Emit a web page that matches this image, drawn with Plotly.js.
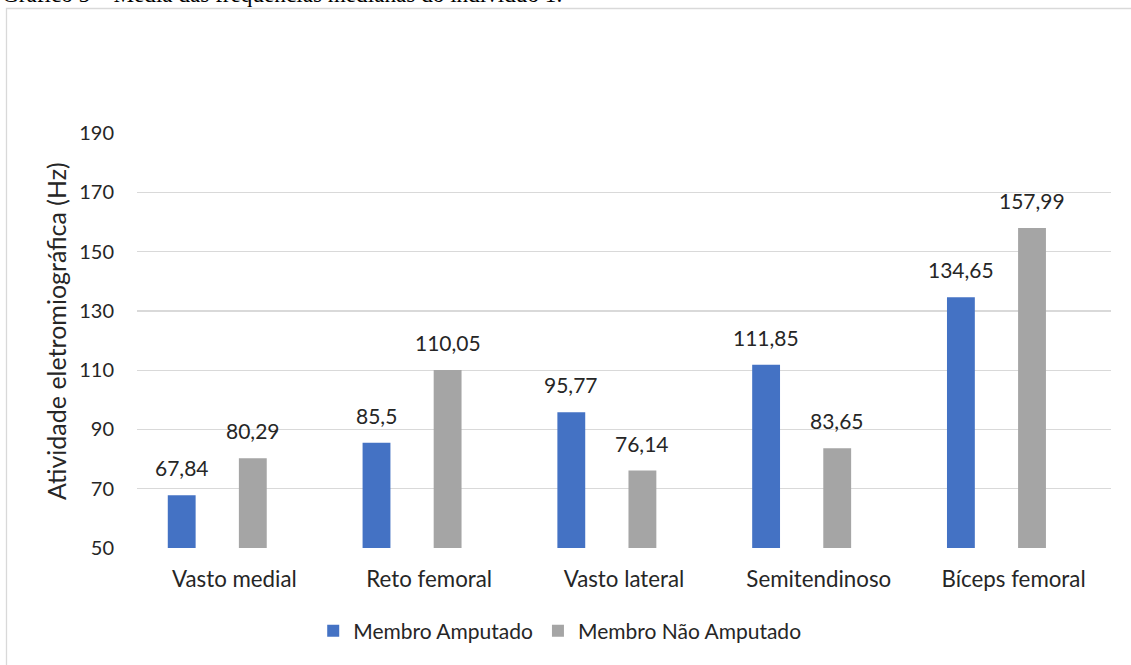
<!DOCTYPE html>
<html>
<head>
<meta charset="utf-8">
<script src="https://cdn.plot.ly/plotly-3.0.1.min.js"></script>
<style>
  html, body { margin: 0; padding: 0; background: #fff; }
  #chart { width: 1131px; height: 665px; }
</style>
</head>
<body>
<div id="chart"></div>
<script>
// Músculos avaliados
const musculos = ['Vasto medial', 'Reto femoral', 'Vasto lateral', 'Semitendinoso', 'Bíceps femoral'];
// Média das frequências medianas (Hz)
const membroAmputado = [67.84, 85.5, 95.77, 111.85, 134.65];
const membroNaoAmputado = [80.29, 110.05, 76.14, 83.65, 157.99];
const yTicks = [50, 70, 90, 110, 130, 150, 170, 190];

const FONT = 'Lato, "Open Sans", sans-serif';
const TXT = '#262626';
const BAR_W = 0.143;
const OFF_A = -0.342;
const OFF_B = 0.023;

const fmt = v => String(v).replace('.', ',');

const traces = [
  {
    type: 'bar', name: 'Membro Amputado', x: musculos, y: membroAmputado,
    marker: { color: '#4472C4' }, width: BAR_W, offset: OFF_A,
    hoverinfo: 'y'
  },
  {
    type: 'bar', name: 'Membro Não Amputado', x: musculos, y: membroNaoAmputado,
    marker: { color: '#A5A5A5' }, width: BAR_W, offset: OFF_B,
    hoverinfo: 'y'
  }
];

// rótulos de dados sobre cada barra
const annotations = [];
[[membroAmputado, OFF_A], [membroNaoAmputado, OFF_B]].forEach(([serie, off]) => {
  serie.forEach((v, i) => {
    annotations.push({
      x: i + off + BAR_W / 2, y: v, xref: 'x', yref: 'y',
      text: fmt(v), showarrow: false, yanchor: 'bottom', yshift: 13,
      font: { family: FONT, size: 21, color: TXT }
    });
  });
});

// título do eixo vertical
annotations.push({
  xref: 'paper', yref: 'paper', x: -0.083, y: 0.523,
  xanchor: 'center', yanchor: 'middle', textangle: -90, showarrow: false,
  text: 'Atividade eletromiográfica (Hz)',
  font: { family: FONT, size: 25, color: TXT }
});

// legenda do gráfico (parcialmente fora da área visível)
annotations.push({
  xref: 'paper', yref: 'paper', x: -0.1407, y: 1.2988,
  xanchor: 'left', yanchor: 'bottom', showarrow: false,
  text: 'Gráfico 5 – Média das frequências medianas do indivíduo 1.',
  font: { family: '"Liberation Serif", "Times New Roman", serif', size: 23.2, color: '#000' }
});

const layout = {
  width: 1131, height: 665,
  margin: { l: 137, r: 20, t: 133, b: 117 },
  paper_bgcolor: '#fff', plot_bgcolor: '#fff',
  barmode: 'overlay',
  showlegend: true,
  legend: {
    orientation: 'h', x: 0.434, xanchor: 'center', y: -0.2, yanchor: 'middle',
    font: { family: FONT, size: 21, color: TXT }, itemwidth: 30, tracegroupgap: 0
  },
  xaxis: {
    type: 'category', range: [-0.5, 4.5], showgrid: false, zeroline: false,
    showline: false, ticks: '', ticklabelstandoff: 16,
    tickfont: { family: FONT, size: 22.3, color: TXT }, fixedrange: true
  },
  yaxis: {
    range: [50, 190.05], tickvals: yTicks, ticktext: yTicks.map(String),
    showgrid: true, gridcolor: '#D9D9D9', gridwidth: 1.3, zeroline: false,
    showline: false, ticks: '', ticklabelstandoff: 22,
    tickfont: { family: FONT, size: 20, color: TXT },
    fixedrange: true
  },
  shapes: [{
    type: 'rect', xref: 'paper', yref: 'paper',
    x0: -0.134, x1: 1.06, y0: -0.5, y1: 1.3,
    line: { color: '#D9D9D9', width: 1.3 }, fillcolor: 'rgba(0,0,0,0)', layer: 'below'
  }],
  annotations: annotations
};

Plotly.newPlot('chart', traces, layout, { displayModeBar: false, staticPlot: true });
</script>
</body>
</html>
